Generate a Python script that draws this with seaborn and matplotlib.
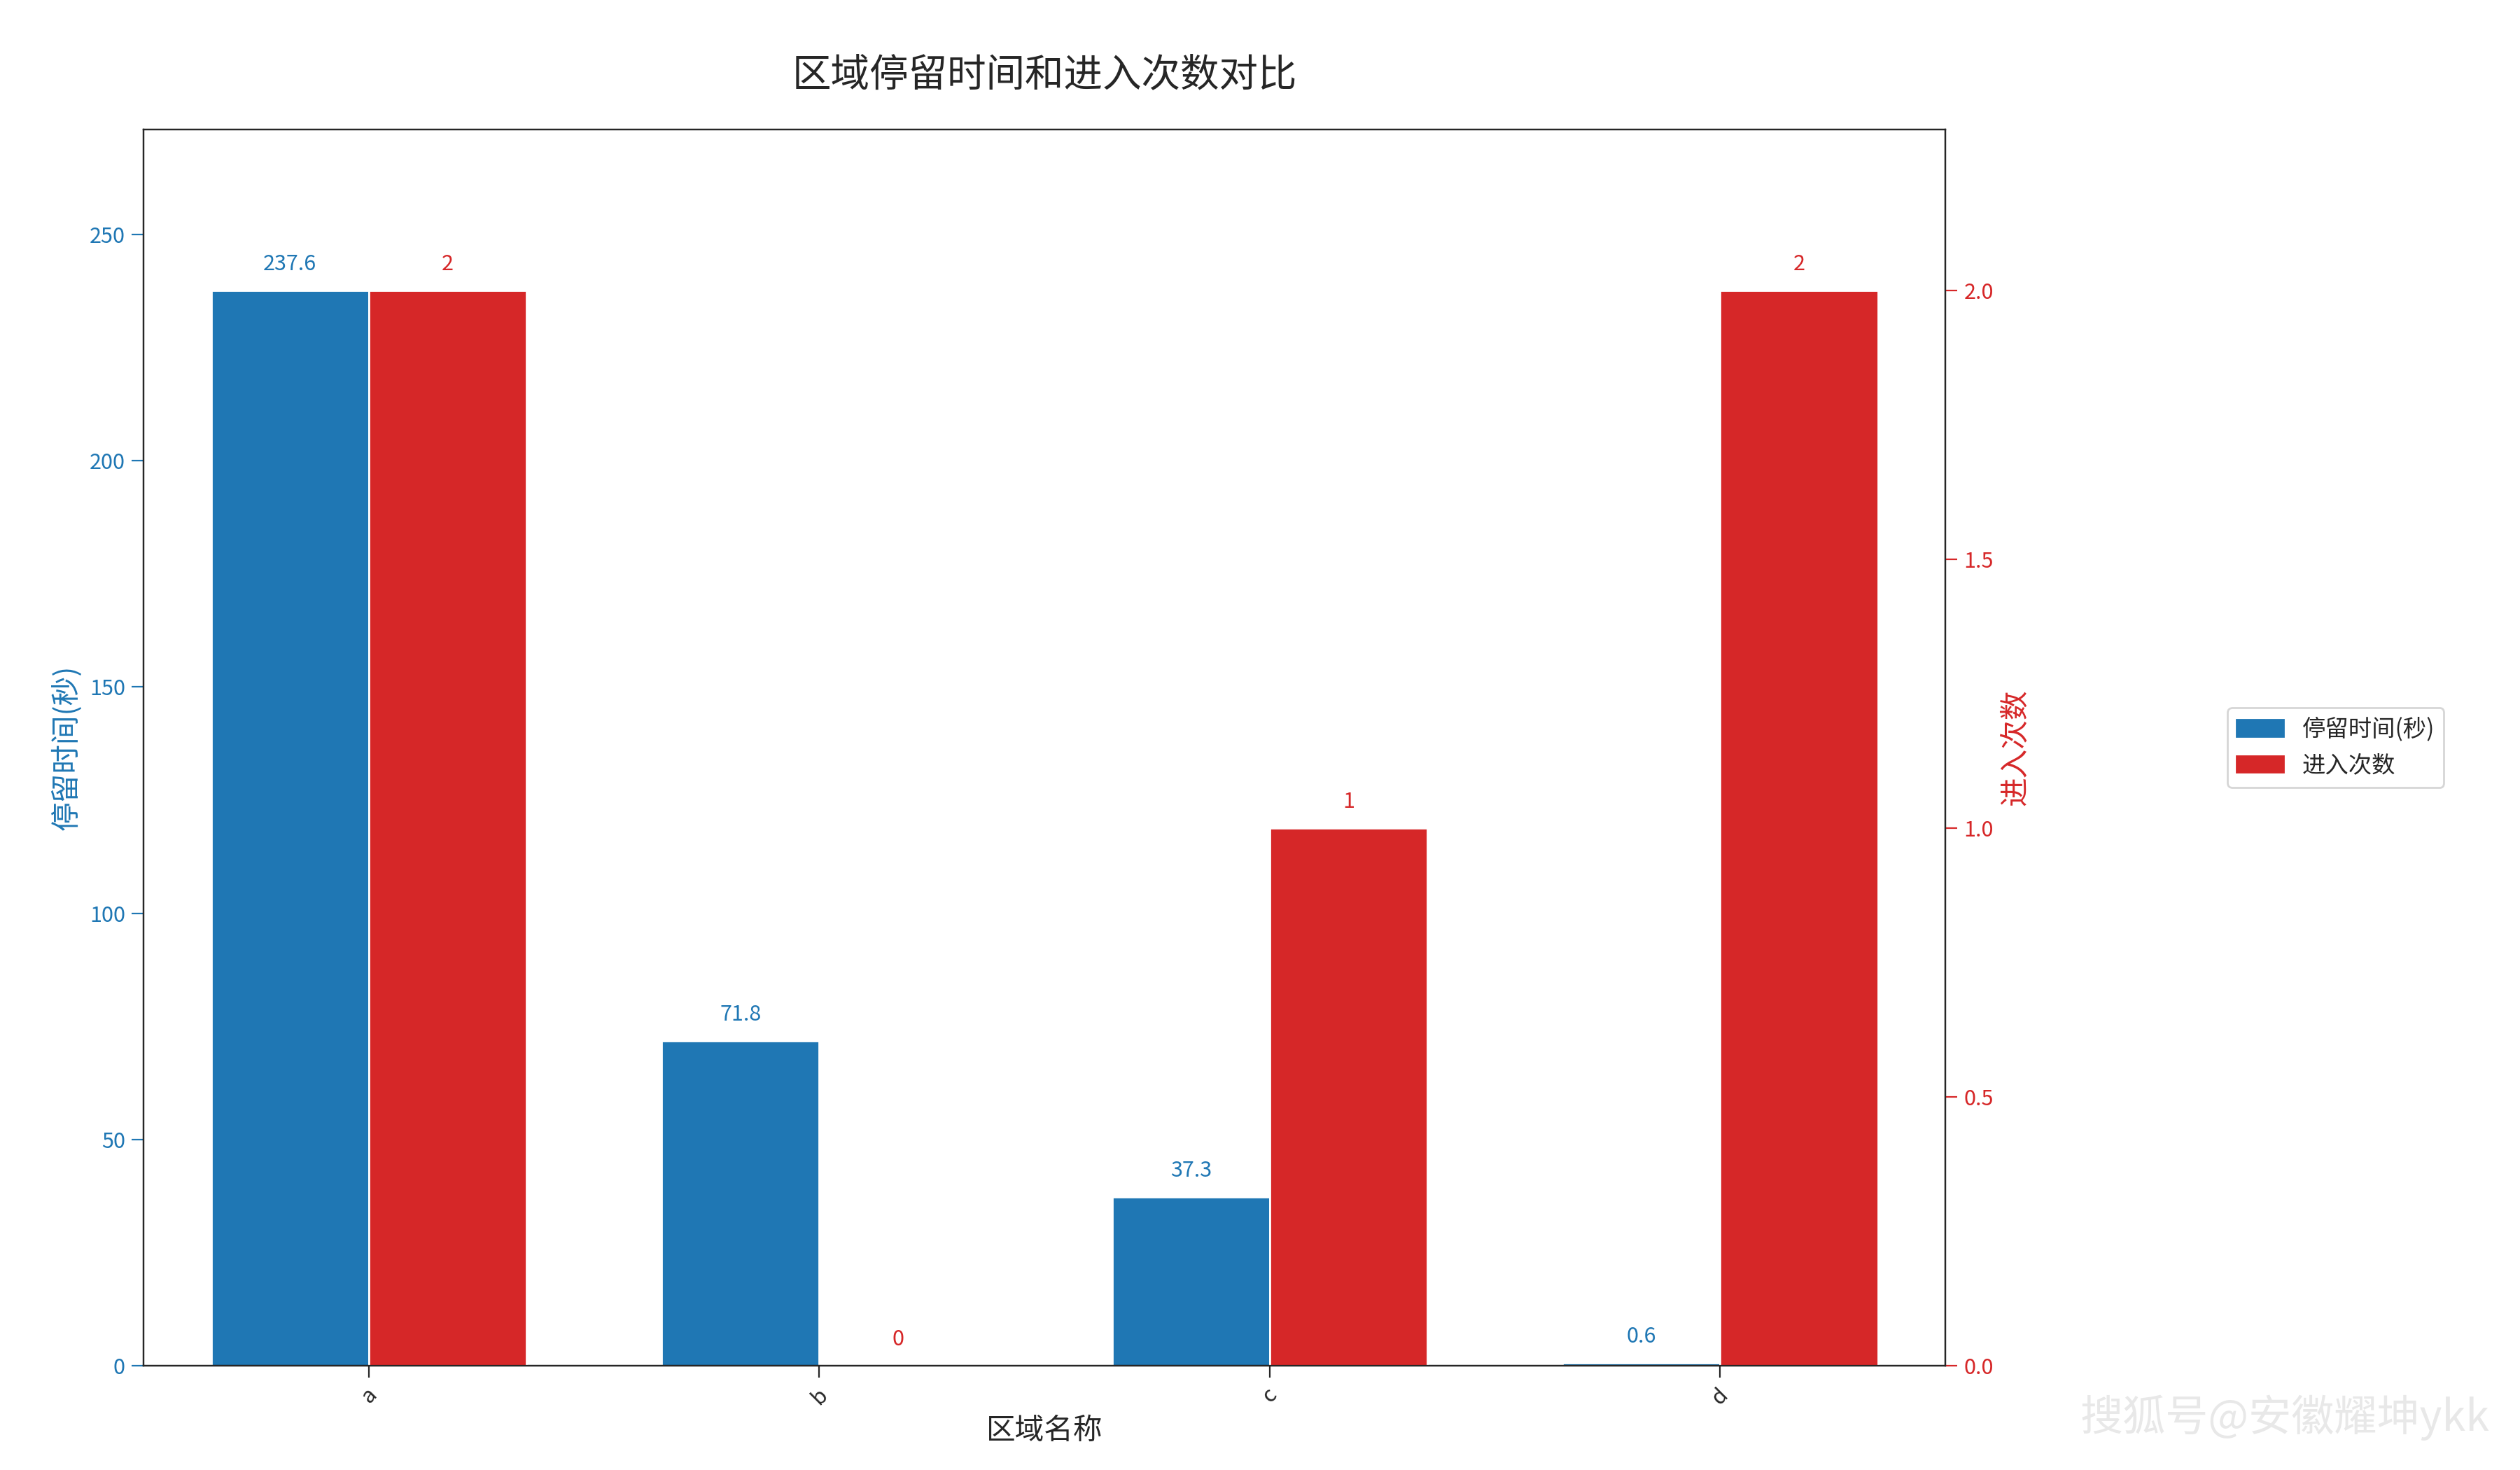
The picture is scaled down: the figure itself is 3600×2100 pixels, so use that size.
import matplotlib
matplotlib.use("Agg")
import matplotlib.pyplot as plt
import seaborn as sns
import pandas as pd
import numpy as np
from matplotlib.patches import Patch

sns.set_style("white")
plt.rcParams['font.family'] = ['Noto Sans CJK SC', 'DejaVu Sans']
plt.rcParams['axes.unicode_minus'] = False

areas = ['a', 'b', 'c', 'd']
stay_time = [237.6, 71.8, 37.3, 0.6]
enter_count = [2, 0, 1, 2]
s1, s2 = '停留时间(秒)', '进入次数'
blue, red = '#1f77b4', '#d62728'

df = pd.DataFrame({
    'area': areas * 2,
    'series': [s1] * 4 + [s2] * 4,
    'time': stay_time + [np.nan] * 4,
    'count': [np.nan] * 4 + enter_count,
})

fig = plt.figure(figsize=(18, 10.5), dpi=200)
ax1 = fig.add_axes([0.057, 0.071, 0.715, 0.841])
ax2 = ax1.twinx()

sns.barplot(data=df, x='area', y='time', hue='series', hue_order=[s1, s2],
            palette=[blue, red], width=0.7, ax=ax1, legend=False, saturation=1)
sns.barplot(data=df, x='area', y='count', hue='series', hue_order=[s1, s2],
            palette=[blue, red], width=0.7, ax=ax2, legend=False, saturation=1)

for c in ax1.containers:
    ax1.bar_label(c, labels=[f'{v:.1f}' if not np.isnan(v) else '' for v in c.datavalues],
                  padding=8, color=blue, fontsize=11)
for c in ax2.containers:
    ax2.bar_label(c, labels=[f'{int(v)}' if not np.isnan(v) else '' for v in c.datavalues],
                  padding=8, color=red, fontsize=11)

ax1.set_ylim(0, max(stay_time) * 1.15)
ax2.set_ylim(0, max(enter_count) * 1.15)
ax2.set_yticks([0, 0.5, 1.0, 1.5, 2.0])
ax2.set_yticklabels(['0.0', '0.5', '1.0', '1.5', '2.0'])

ax1.set_xlabel('区域名称', fontsize=15)
ax1.set_ylabel('停留时间(秒)', color=blue, fontsize=15)
ax2.set_ylabel('进入次数', color=red, fontsize=15)
ax1.tick_params(axis='y', colors=blue, labelsize=11, length=6, left=True)
ax2.tick_params(axis='y', colors=red, labelsize=11, length=6, right=True)
ax1.tick_params(axis='x', labelsize=11, length=6, bottom=True, labelrotation=45)
for sp in ax1.spines.values():
    sp.set_color('black')
ax1.set_title('区域停留时间和进入次数对比', fontsize=20, pad=22)

handles = [Patch(color=blue, label=s1), Patch(color=red, label=s2)]
ax1.legend(handles=handles, loc='center left', bbox_to_anchor=(1.15, 0.5), fontsize=12)

fig.text(0.988, 0.02, '搜狐号@安徽耀坤ykk', ha='right', va='bottom', fontsize=22,
         color='#e8e8e8')

fig.savefig('out.png', dpi=200)
